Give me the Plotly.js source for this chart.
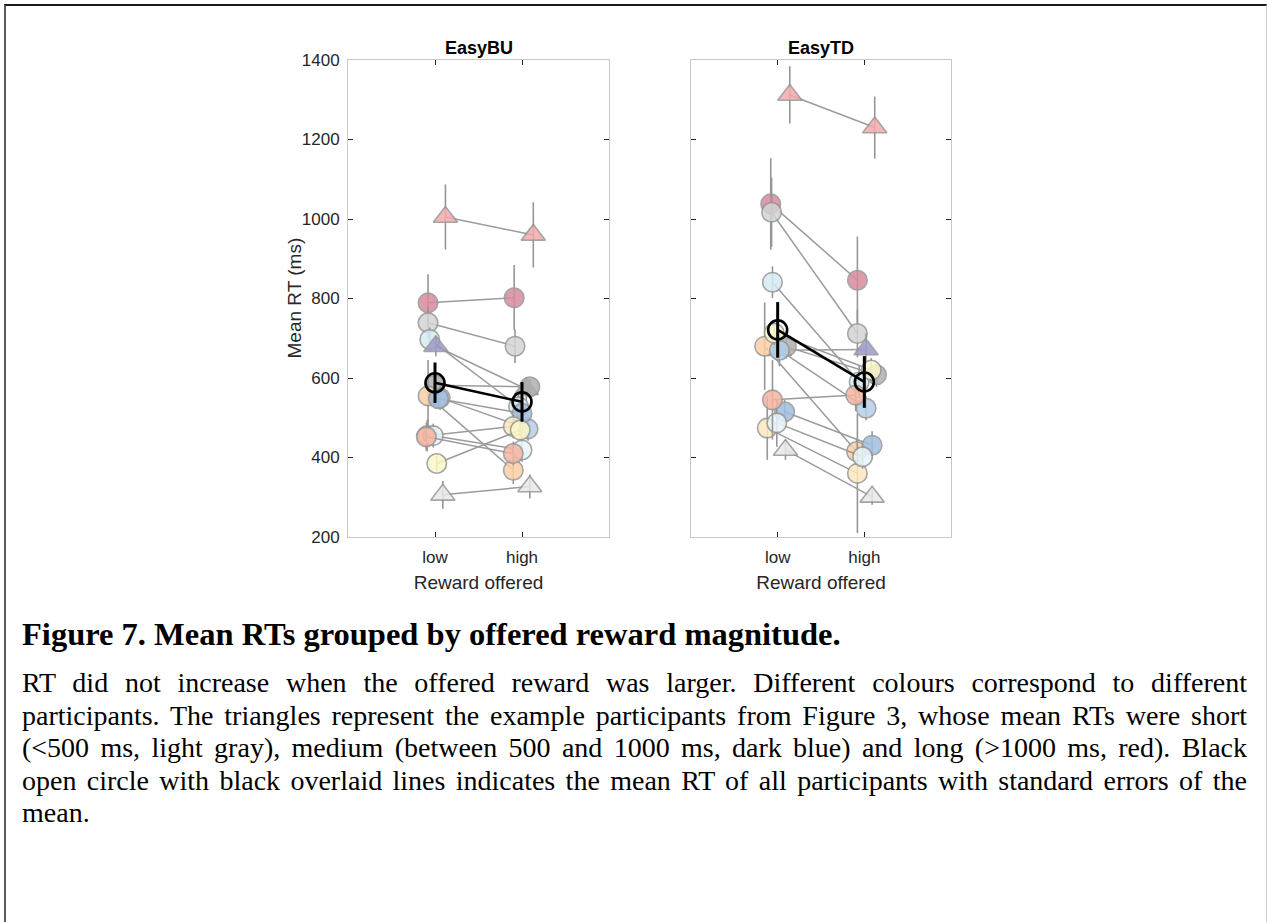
<!DOCTYPE html>
<html>
<head>
<meta charset="utf-8">
<script src="https://cdn.plot.ly/plotly-3.0.1.min.js"></script>
<style>
  html, body { margin:0; padding:0; background:#fff; }
  #page { position:relative; width:1267px; height:922px; overflow:hidden; background:#fff; }
  #frame { position:absolute; left:4px; top:4px; width:1260px; height:930px;
           border-top:2px solid #1a1a1a; border-left:2px solid #5a5a5a; border-right:1px solid #d0d0d0; }
  #chart { position:absolute; left:0; top:0; width:1267px; height:922px; }
  .cap { position:absolute; left:22px; width:1225px; font-family:"Liberation Serif","Times New Roman",serif; color:#000; }
  #heading { top:615px; font-size:32.5px; font-weight:bold; line-height:38px; }
  #body { top:667px; font-size:28px; line-height:32.5px; }
  #body span { display:block; text-align:justify; text-align-last:justify; white-space:nowrap; }
  #body span.last { text-align:left; text-align-last:left; }
</style>
</head>
<body>
<div id="page">
  <div id="frame"></div>
  <div id="chart"></div>
  <div id="heading" class="cap">Figure 7. Mean RTs grouped by offered reward magnitude.</div>
  <div id="body" class="cap">
    <span>RT did not increase when the offered reward was larger. Different colours correspond to different</span>
    <span>participants. The triangles represent the example participants from Figure 3, whose mean RTs were short</span>
    <span>(&lt;500 ms, light gray), medium (between 500 and 1000 ms, dark blue) and long (&gt;1000 ms, red). Black</span>
    <span>open circle with black overlaid lines indicates the mean RT of all participants with standard errors of the</span>
    <span class="last">mean.</span>
  </div>
</div>
<script>
// ---------------- data ----------------
const panelTitles = ['EasyBU', 'EasyTD'];
const xTickLabels = ['low', 'high'];
const xPositions = [1, 2];
const yTicks = [200, 400, 600, 800, 1000, 1200, 1400];
const xTitle = 'Reward offered';
const yTitle = 'Mean RT (ms)';

const participants = ['red', 'lgray', 'lblue', 'triBlue', 'dgray', 'orange', 'steel', 'steel2',
                      'cream', 'ltblue2', 'salmon', 'yellow', 'triRed', 'triGray'];
const fillColors = ['rgb(217,138,158)', 'rgb(212,212,212)', 'rgb(214,236,244)', 'rgb(155,155,205)',
                    'rgb(176,176,176)', 'rgb(252,208,166)', 'rgb(180,208,232)', 'rgb(160,190,225)',
                    'rgb(253,232,190)', 'rgb(232,245,250)', 'rgb(245,180,160)', 'rgb(252,248,200)',
                    'rgb(243,170,170)', 'rgb(232,232,232)'];
const symbols = ['circle', 'circle', 'circle', 'triangle-up', 'circle', 'circle', 'circle', 'circle',
                 'circle', 'circle', 'circle', 'circle', 'triangle-up', 'triangle-up'];

// EasyBU
const buLow    = [789, 739, 697, 680, 582, 555, 550, 548, 455, 455, 452, 385, 1005, 306];
const buHigh   = [802, 680, 528, 572, 578, 368, 472, 511, 478, 419, 410, 469, 960, 327];
const buSeLow  = [72, 40, 30, 25, 25, 90, 30, 25, 40, 30, 35, 20, 82, 35];
const buSeHigh = [82, 42, 30, 30, 20, 35, 30, 25, 30, 30, 30, 25, 82, 30];
const buJitLow = [-0.08, -0.08, -0.06, 0.01, 0.0, -0.08, 0.06, 0.04, -0.09, -0.02, -0.1, 0.02, 0.12, 0.09];
const buJitHigh= [-0.09, -0.08, -0.04, 0.05, 0.09, -0.1, 0.07, 0.0, -0.1, 0.0, -0.1, -0.02, 0.13, 0.09];
const buMean   = [588, 540];
const buMeanSe = [51, 50];

// EasyTD
const tdLow    = [1038, 1017, 841, 670, 679, 680, 670, 515, 474, 487, 545, 713, 1312, 419];
const tdHigh   = [846, 712, 590, 672, 608, 415, 524, 431, 360, 402, 557, 620, 1230, 301];
const tdSeLow  = [115, 87, 40, 30, 30, 110, 40, 30, 80, 60, 100, 30, 72, 25];
const tdSeHigh = [110, 60, 40, 40, 30, 30, 30, 35, 150, 30, 40, 30, 78, 20];
const tdJitLow = [-0.08, -0.07, -0.06, 0.02, 0.1, -0.15, 0.02, 0.08, -0.12, -0.01, -0.06, -0.04, 0.14, 0.09];
const tdJitHigh= [-0.08, -0.08, -0.06, 0.02, 0.14, -0.09, 0.02, 0.09, -0.08, -0.02, -0.1, 0.08, 0.12, 0.09];
const tdMean   = [721, 590];
const tdMeanSe = [70, 65];

// ---------------- build ----------------
const grayLine = 'rgb(155,155,155)';
const edgeGray = 'rgb(150,150,150)';
const traces = [];

function addPanel(low, high, seL, seH, jl, jh, mean, meanSe, xa, ya) {
  participants.forEach((p, i) => {
    const tri = symbols[i] !== 'circle';
    traces.push({
      type: 'scatter', mode: 'lines+markers', xaxis: xa, yaxis: ya,
      x: [xPositions[0] + jl[i], xPositions[1] + jh[i]],
      y: [low[i], high[i]],
      line: { color: grayLine, width: 1.5 },
      marker: { symbol: symbols[i], size: tri ? 21 : 19.5, color: fillColors[i], opacity: 0.85,
                line: { color: edgeGray, width: 1.6 } },
      error_y: { type: 'data', array: [seL[i], seH[i]], visible: true, color: edgeGray, thickness: 1.6, width: 0 },
      hoverinfo: 'skip', name: p
    });
  });
  traces.push({
    type: 'scatter', mode: 'lines+markers', xaxis: xa, yaxis: ya,
    x: xPositions, y: mean,
    line: { color: '#000', width: 2.6 },
    marker: { symbol: 'circle-open', size: 19, color: '#000', line: { color: '#000', width: 2.6 } },
    error_y: { type: 'data', array: meanSe, visible: true, color: '#000', thickness: 3, width: 0 },
    hoverinfo: 'skip', name: 'mean'
  });
}
addPanel(buLow, buHigh, buSeLow, buSeHigh, buJitLow, buJitHigh, buMean, buMeanSe, 'x', 'y');
addPanel(tdLow, tdHigh, tdSeLow, tdSeHigh, tdJitLow, tdJitHigh, tdMean, tdMeanSe, 'x2', 'y2');

const W = 1267, H = 922;
const fontFam = '"Liberation Sans", Arial, Helvetica, sans-serif';
function xAxis(d0, d1, anchor) {
  return {
    domain: [d0 / W, d1 / W], anchor: anchor, range: [0, 3],
    tickvals: xPositions, ticktext: xTickLabels,
    showline: true, linecolor: 'rgb(200,200,200)', linewidth: 1, mirror: 'ticks',
    ticks: 'inside', ticklen: 5, tickwidth: 1, tickcolor: '#262626',
    ticklabelstandoff: 5,
    showgrid: false, zeroline: false,
    tickfont: { family: fontFam, size: 17, color: '#262626' },
    title: { text: xTitle, font: { family: fontFam, size: 19, color: '#262626' }, standoff: 9 },
    automargin: false, fixedrange: true
  };
}
function yAxis(anchor, labels) {
  return {
    domain: [(H - 537) / H, (H - 60) / H], anchor: anchor, range: [200, 1400],
    tickvals: yTicks, showticklabels: labels,
    showline: true, linecolor: 'rgb(200,200,200)', linewidth: 1, mirror: 'ticks',
    ticks: 'inside', ticklen: 5, tickwidth: 1, tickcolor: '#262626',
    ticklabelstandoff: 4,
    showgrid: false, zeroline: false,
    tickfont: { family: fontFam, size: 17, color: '#262626' },
    automargin: false, fixedrange: true
  };
}

const annotations = panelTitles.map((t, i) => ({
  text: '<b>' + t + '</b>', showarrow: false,
  xref: (i === 0 ? 'x' : 'x2') + ' domain', yref: (i === 0 ? 'y' : 'y2') + ' domain',
  x: 0.5, y: 1, xanchor: 'center', yanchor: 'bottom', yshift: 0,
  font: { family: fontFam, size: 18, color: '#000' }
}));
annotations.push({
  text: yTitle, showarrow: false, textangle: -90,
  xref: 'paper', yref: 'paper', x: 294 / W, y: 1 - 298.5 / H, xanchor: 'center', yanchor: 'middle',
  font: { family: fontFam, size: 19, color: '#262626' }
});

const layout = {
  width: W, height: H, margin: { l: 0, r: 0, t: 0, b: 0 },
  paper_bgcolor: 'rgba(0,0,0,0)', plot_bgcolor: '#fff', showlegend: false,
  xaxis: xAxis(348, 609, 'y'), yaxis: yAxis('x', true),
  xaxis2: xAxis(691, 951, 'y2'), yaxis2: yAxis('x2', false),
  annotations: annotations
};
Plotly.newPlot('chart', traces, layout, { displayModeBar: false, staticPlot: true });
</script>
</body>
</html>
